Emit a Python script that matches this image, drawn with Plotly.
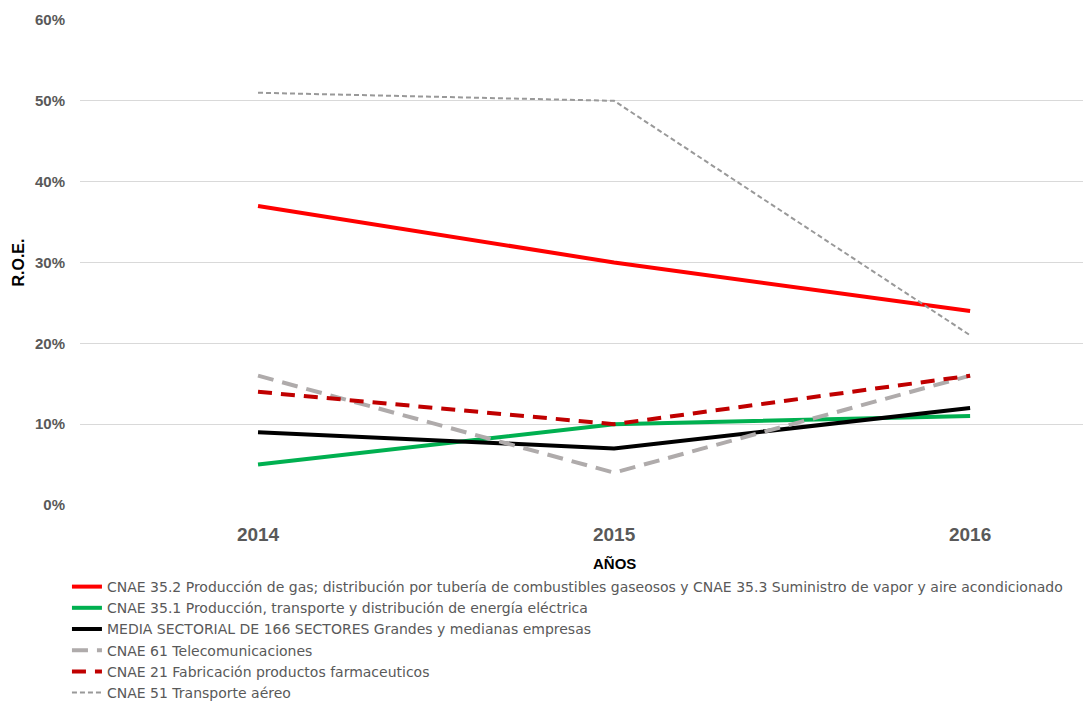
import plotly.graph_objects as go

years = [2014, 2015, 2016]
year_labels = ["2014", "2015", "2016"]

gas = [0.37, 0.30, 0.24]
electricidad = [0.05, 0.10, 0.11]
media = [0.09, 0.07, 0.12]
telecom = [0.16, 0.04, 0.16]
farma = [0.14, 0.10, 0.16]
aereo = [0.51, 0.50, 0.21]

names = [
    "CNAE 35.2 Producción de gas; distribución por tubería de combustibles gaseosos y CNAE 35.3 Suministro de vapor y aire acondicionado",
    "CNAE 35.1 Producción, transporte y distribución de energía eléctrica",
    "MEDIA SECTORIAL DE 166 SECTORES Grandes y medianas empresas",
    "CNAE 61 Telecomunicaciones",
    "CNAE 21 Fabricación productos farmaceuticos",
    "CNAE 51 Transporte aéreo",
]

series = [gas, electricidad, media, telecom, farma, aereo]
styles = [
    dict(color="#FF0000", width=4, dash="solid"),
    dict(color="#00B050", width=4, dash="solid"),
    dict(color="#000000", width=4, dash="solid"),
    dict(color="#AFABAB", width=4, dash="16px,9px"),
    dict(color="#C00000", width=4, dash="14px,9px"),
    dict(color="#999999", width=2, dash="5px,3px"),
]

fig = go.Figure()
for name, vals, st in zip(names, series, styles):
    fig.add_trace(go.Scatter(x=years, y=vals, mode="lines", name=name, line=st))

fig.update_layout(
    width=1091,
    height=702,
    paper_bgcolor="white",
    plot_bgcolor="white",
    margin=dict(l=72, r=0, t=12, b=205, autoexpand=False),
    showlegend=True,
    legend=dict(
        x=-0.0128,
        y=-0.1361,
        xanchor="left",
        yanchor="top",
        font=dict(family="DejaVu Sans", size=14, color="#595959"),
        bgcolor="rgba(0,0,0,0)",
        tracegroupgap=0,
        itemwidth=30,
    ),
    xaxis=dict(
        range=[2013.5, 2016.362],
        tickvals=years,
        ticktext=year_labels,
        showgrid=False,
        zeroline=False,
        showline=False,
        tickfont=dict(family="Liberation Sans", size=19, color="#595959", weight="bold"),
        ticklabelstandoff=16,
    ),
    yaxis=dict(
        range=[0, 0.6],
        tickvals=[0, 0.1, 0.2, 0.3, 0.4, 0.5, 0.6],
        tickformat=".0%",
        showgrid=True,
        gridcolor="#D9D9D9",
        gridwidth=1,
        zeroline=False,
        showline=False,
        tickfont=dict(family="Liberation Sans", size=15, color="#595959", weight="bold"),
        ticklabelstandoff=14,
    ),
    annotations=[
        dict(text="AÑOS", xref="x", yref="paper", x=2015, y=-0.1196,
             xanchor="center", yanchor="middle", showarrow=False,
             font=dict(family="Liberation Sans", size=15, color="#000000", weight="bold")),
        dict(text="R.O.E.", xref="paper", yref="paper", x=-0.0608, y=0.5,
             xanchor="center", yanchor="middle", showarrow=False, textangle=-90,
             font=dict(family="Liberation Sans", size=16, color="#000000", weight="bold")),
    ],
)

fig.write_html("out.html")
